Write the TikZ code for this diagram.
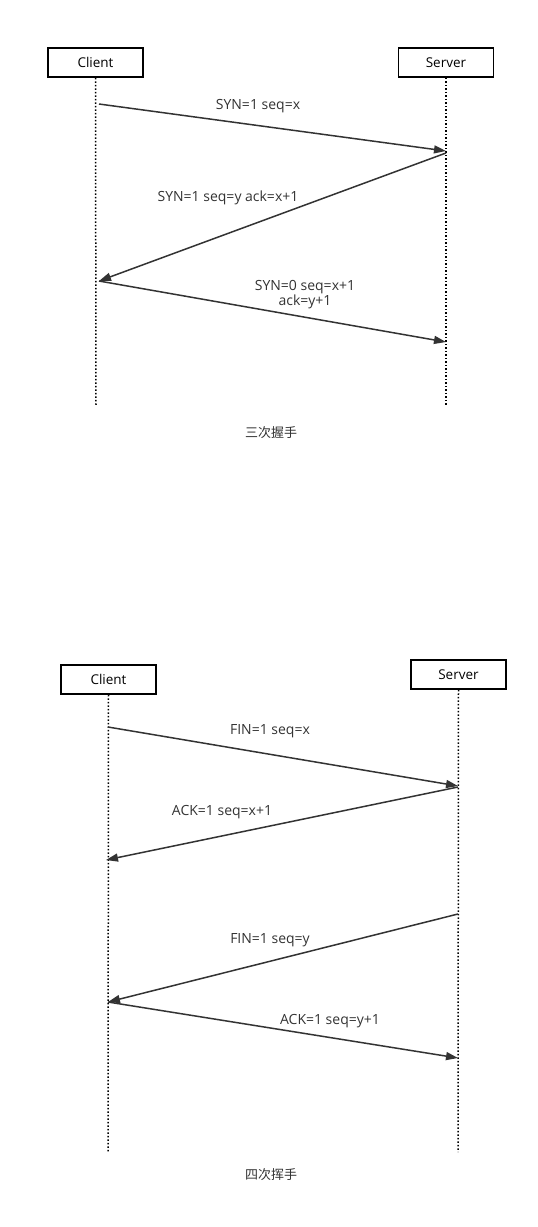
\documentclass[tikz,border=0pt]{standalone}
\usepackage{fontspec}
\setmainfont{Open Sans}
\newfontfamily\cjk{Noto Sans CJK SC}
\usetikzlibrary{arrows.meta}
\definecolor{ink}{HTML}{333333}
\begin{document}
\begin{tikzpicture}[x=1pt,y=-1pt,
          box/.style={draw=black,line width=1.6pt,minimum width=95pt,minimum height=29pt,inner sep=0pt,font=\fontsize{13.5}{15}\selectfont},
          life/.style={draw=black,line width=1.5pt,dotted},
          msg/.style={draw=ink,line width=1.5pt,-{Triangle[length=12pt,width=8pt]}},
          lbl/.style={text=ink,font=\fontsize{14}{15.5}\selectfont,align=center,inner sep=0pt},
          captext/.style={text=ink,font=\cjk\fontsize{13}{15}\selectfont,inner sep=0pt}
          ]
          \useasboundingbox (0,0) rectangle (538,1227);
          % three-way handshake
          \node[box] (client1) at (95.5,62.5) {Client};
          \node[box] (server1) at (446,62.5)  {Server};
          \coordinate (cend1) at (96,405);
          \coordinate (send1) at (446,405);
          \draw[life] (client1.south) -- (cend1);
          \draw[life] (server1.south) -- (send1);
          \coordinate (c1a) at (99,104);
          \coordinate (s1a) at (446,151);
          \coordinate (s1b) at (446,153);
          \coordinate (c1b) at (99,281);
          \coordinate (s1c) at (446,342);
          \draw[msg] (c1a) -- (s1a);
          \draw[msg] (s1b) -- (c1b);
          \draw[msg] (c1b) -- (s1c);
          \node[lbl] (m1) at (258,106) {SYN=1 seq=x};
          \node[lbl] (m2) at (228,198) {SYN=1 seq=y ack=x+1};
          \node[lbl] (m3) at (305,294.5) {SYN=0 seq=x+1\\ack=y+1};
          \node[captext] (cap1) at (271,433) {三次握手};
          % four-way wave
          \node[box] (client2) at (108.5,679.5) {Client};
          \node[box] (server2) at (458.5,674.5) {Server};
          \coordinate (cend2) at (108,1152);
          \coordinate (send2) at (458,1152);
          \draw[life] (client2.south) -- (cend2);
          \draw[life] (server2.south) -- (send2);
          \coordinate (c2a) at (108,727);
          \coordinate (s2a) at (458,786);
          \coordinate (s2b) at (458,787);
          \coordinate (c2b) at (106,860);
          \coordinate (s2c) at (458,914);
          \coordinate (c2c) at (108,1002);
          \coordinate (s2d) at (458,1058);
          \draw[msg] (c2a) -- (s2a);
          \draw[msg] (s2b) -- (c2b);
          \draw[msg] (s2c) -- (c2c);
          \draw[msg] (c2c) -- (s2d);
          \node[lbl] (m4) at (270,731)  {FIN=1 seq=x};
          \node[lbl] (m5) at (222,812)  {ACK=1 seq=x+1};
          \node[lbl] (m6) at (270,940)  {FIN=1 seq=y};
          \node[lbl] (m7) at (330,1021) {ACK=1 seq=y+1};
          \node[captext] (cap2) at (271,1175) {四次挥手};
        \end{tikzpicture}
\end{document}
